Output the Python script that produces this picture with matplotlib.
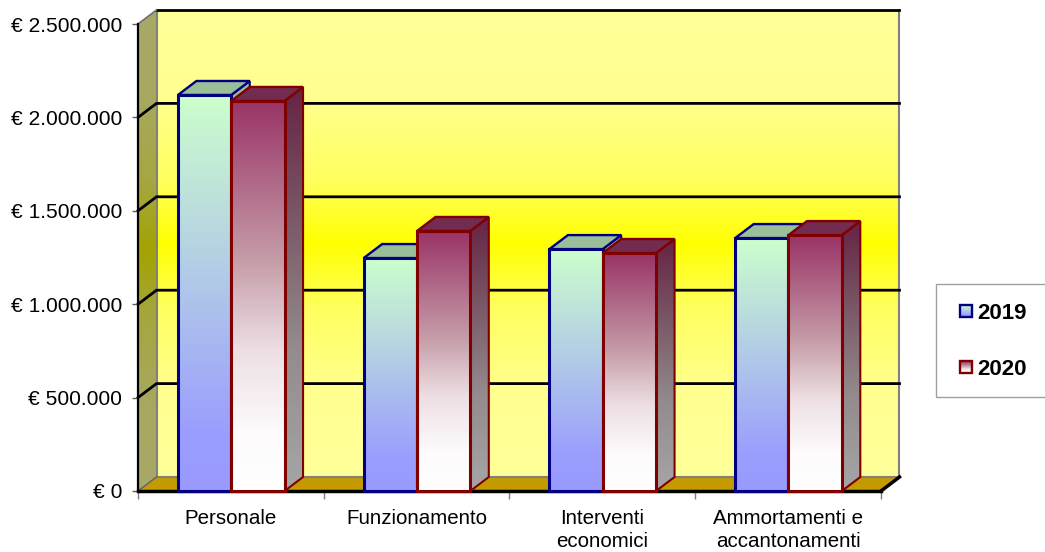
import matplotlib
matplotlib.use("Agg")
import matplotlib.pyplot as plt
import numpy as np
from matplotlib.colors import LinearSegmentedColormap, to_rgb
from matplotlib.patches import Polygon, Rectangle
from matplotlib.lines import Line2D
from matplotlib.image import BboxImage
from matplotlib.transforms import Bbox, TransformedBbox
from matplotlib.legend_handler import HandlerBase
from matplotlib.ticker import FuncFormatter

categories = ["Personale", "Funzionamento", "Interventi\neconomici", "Ammortamenti e\naccantonamenti"]
years = ["2019", "2020"]
values_2019 = [2120000, 1247000, 1295000, 1354000]
values_2020 = [2088000, 1392000, 1274000, 1370000]
y_ticks = [0, 500000, 1000000, 1500000, 2000000, 2500000]

plt.rcParams["font.family"] = ["Liberation Sans", "DejaVu Sans"]
W, H = 1045, 552
fig = plt.figure(figsize=(W / 100, H / 100), dpi=100, facecolor="white")
L, R, B, T = 138, 881, 491, 24
ax = fig.add_axes([L / W, 1 - B / H, (R - L) / W, (B - T) / H])
YMAX = y_ticks[-1]
NC = len(categories)
ax.set_xlim(0, NC)
ax.set_ylim(0, YMAX)
DX = 18.5 / (R - L) * NC
DY = 14.0 / (B - T) * YMAX
BAR_W = 0.287
GAP = 0.215


def proj(x, v, d):
    return (x + d * DX, v + d * DY)


def cmap_of(stops):
    return LinearSegmentedColormap.from_list("g", [(p, to_rgb(c)) for p, c in stops])


def grad_poly(pts, stops, z):
    xs, ys = zip(*pts)
    g = np.linspace(0, 1, 256).reshape(-1, 1)
    im = ax.imshow(g, cmap=cmap_of(stops), aspect="auto", origin="upper",
                   extent=[min(xs), max(xs), min(ys), max(ys)], zorder=z,
                   interpolation="bilinear", vmin=0, vmax=1)
    poly = Polygon(pts, closed=True, transform=ax.transData)
    im.set_clip_box(fig.bbox)
    im.set_clip_path(poly)
    ax.set_xlim(0, NC)
    ax.set_ylim(0, YMAX)


def poly(pts, fc, ec, lw, z):
    ax.add_patch(Polygon(pts, closed=True, fc=fc, ec=ec, lw=lw, zorder=z, clip_on=False, joinstyle="miter"))


WALL = [(0, "#FFFF99"), (0.18, "#FFFF90"), (0.36, "#FFFF60"), (0.5, "#FFFF00"), (0.64, "#FFFF60"), (0.82, "#FFFF90"), (1, "#FFFF99")]
SIDE = [(0, "#A8A868"), (0.18, "#A8A860"), (0.36, "#A6A640"), (0.5, "#A3A300"), (0.64, "#A6A640"), (0.82, "#A8A860"), (1, "#A8A868")]
F19 = [(0, "#CCFFCC"), (0.85, "#9B9EFE"), (1, "#9999FF")]
S19 = [(0, "#99BF99"), (0.85, "#7477BE"), (1, "#7373BF")]
F20 = [(0, "#993366"), (0.41, "#C59CA8"), (0.64, "#EDDFE3"), (0.85, "#FDFBFC"), (1, "#FFFFFF")]
S20 = [(0, "#662244"), (0.41, "#806670"), (0.64, "#938A8C"), (1, "#A6A6A6")]

wall = [proj(0, 0, 1), proj(NC, 0, 1), proj(NC, YMAX, 1), proj(0, YMAX, 1)]
grad_poly(wall, WALL, 1)
side = [proj(0, 0, 0), proj(0, 0, 1), proj(0, YMAX, 1), proj(0, YMAX, 0)]
grad_poly(side, SIDE, 1)
poly([proj(0, 0, 0), proj(NC, 0, 0), proj(NC, 0, 1), proj(0, 0, 1)], "#C49A00", "none", 0, 1.2)

for v in y_ticks[1:-1]:
    ax.add_line(Line2D(*zip(proj(0, v, 0), proj(0, v, 1), proj(NC, v, 1)), color="black", lw=2.0, zorder=1.5,
                       clip_on=False, solid_joinstyle="miter"))
ax.add_line(Line2D(*zip(proj(0, YMAX, 1), proj(NC, YMAX, 1)), color="black", lw=2.0, zorder=1.5, clip_on=False))
ax.add_line(Line2D(*zip(proj(0, YMAX, 1), proj(0, 0, 1), proj(NC, 0, 1), proj(NC, YMAX, 1)), color="#808080", lw=1.5,
                   zorder=1.4, clip_on=False))
ax.add_line(Line2D(*zip(proj(0, 0, 0), proj(0, 0, 1)), color="#606060", lw=1.0, zorder=1.4, clip_on=False))
ax.add_line(Line2D(*zip(proj(NC, 0, 0), proj(NC, 0, 1)), color="black", lw=2.5, zorder=3, clip_on=False))
ax.add_line(Line2D(*zip(proj(0, YMAX, 0), proj(0, YMAX, 1)), color="#707070", lw=1.2, zorder=1.5, clip_on=False))

series = [
    (values_2019, F19, "#000080", "#99BF99", S19),
    (values_2020, F20, "#800000", "#732B50", S20),
]

z = 4.0
for i in range(NC):
    for s, (vals, front_cols, edge, top_col, side_cols) in enumerate(series):
        x0 = i + GAP + s * BAR_W
        x1 = x0 + BAR_W
        v = vals[i]
        sd = [proj(x1, 0, 0), proj(x1, 0, 1), proj(x1, v, 1), proj(x1, v, 0)]
        tp = [proj(x0, v, 0), proj(x1, v, 0), proj(x1, v, 1), proj(x0, v, 1)]
        fr = [proj(x0, 0, 0), proj(x1, 0, 0), proj(x1, v, 0), proj(x0, v, 0)]
        grad_poly(sd, side_cols, z)
        poly(sd, "none", edge, 1.5, z + 0.01)
        poly(tp, top_col, edge, 1.7, z + 0.02)
        grad_poly(fr, front_cols, z + 0.03)
        poly(fr, "none", edge, 2.2, z + 0.04)
        z += 0.1

for sp in ("top", "right"):
    ax.spines[sp].set_visible(False)
ax.spines["left"].set_color("black")
ax.spines["left"].set_linewidth(1.6)
ax.spines["bottom"].set_color("black")
ax.spines["bottom"].set_linewidth(2.5)
ax.spines["left"].set_zorder(3)
ax.spines["bottom"].set_zorder(3)
ax.patch.set_visible(False)

ax.set_yticks(y_ticks)
ax.yaxis.set_major_formatter(FuncFormatter(lambda v, _: "€ " + f"{int(v):,}".replace(",", ".")))
ax.tick_params(axis="y", length=4.5, width=1, color="#606060", labelsize=15.1, pad=7, labelcolor="black")
ax.set_xticks(np.arange(NC) + 0.5)
ax.set_xticklabels(categories, linespacing=1.27)
ax.set_xticks(np.arange(NC + 1), minor=True)
ax.tick_params(axis="x", which="major", length=0, labelsize=14.8, pad=13)
ax.tick_params(axis="x", which="minor", length=6, width=1, color="#808080")


class GradHandler(HandlerBase):
    def __init__(self, stops, edge):
        super().__init__()
        self.stops, self.edge = stops, edge

    def create_artists(self, legend, orig, xd, yd, w, h, fs, trans):
        kw, kh = 8.6, 8.6
        x0 = -xd + w - kw
        y0 = -yd + (h - kh) / 2
        box = Bbox([[x0, y0], [x0 + kw, y0 + kh]])
        im = BboxImage(TransformedBbox(box, trans), cmap=cmap_of(self.stops), norm=plt.Normalize(0, 1),
                       interpolation="bilinear", origin="upper")
        im.set_data(np.linspace(0, 1, 32).reshape(-1, 1))
        r = Rectangle((x0, y0), kw, kh, fc="none", ec=self.edge, lw=1.7, transform=trans)
        return [im, r]


fig.add_artist(Rectangle((936 / W, 1 - 396.5 / H), 120 / W, 112.5 / H, transform=fig.transFigure,
                         fc="white", ec="#A0A0A0", lw=1.0, zorder=4))
handles = [Rectangle((0, 0), 1, 1), Line2D([], [])]
leg = fig.legend(handles, years,
                 handler_map={handles[0]: GradHandler(series[0][1], series[0][2]),
                              handles[1]: GradHandler(series[1][1], series[1][2])},
                 loc="lower left", bbox_to_anchor=(936 / W, 1 - 396.5 / H), borderaxespad=0,
                 frameon=False,
                 prop={"size": 16, "weight": "bold"},
                 handlelength=0.88, handletextpad=0.24, labelspacing=1.58, borderpad=0.74)
leg.set_zorder(5)

fig.savefig("out.png", dpi=100)
